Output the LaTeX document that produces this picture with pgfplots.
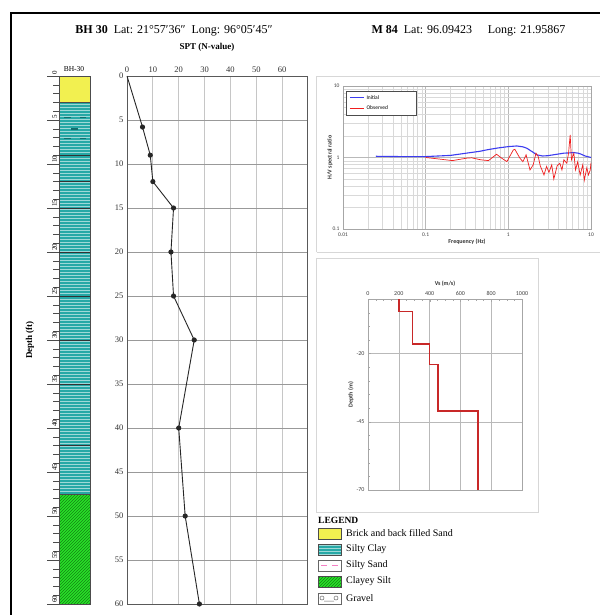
\documentclass[border=0pt]{standalone}
\usepackage{fontspec}
\setmainfont{Liberation Serif}
\newfontfamily\calib{Carlito}
\usepackage{pgfplots}
\pgfplotsset{compat=1.18}
\usetikzlibrary{patterns}

\definecolor{fillyel}{RGB}{242,240,80}
\definecolor{clayteal}{RGB}{38,168,166}
\definecolor{claydark}{RGB}{20,110,110}
\definecolor{siltgreen}{RGB}{40,225,40}
\definecolor{siltdark}{RGB}{20,130,20}
\definecolor{hvblue}{RGB}{60,60,240}
\definecolor{hvred}{RGB}{240,30,30}
\definecolor{vsred}{RGB}{200,40,40}
\definecolor{xlgray}{RGB}{215,215,215}

\begin{document}
\begin{tikzpicture}
\useasboundingbox (0,0) rectangle (599pt,-615pt);
\fill[white] (0,0) rectangle (599pt,-615pt);
\draw[line width=1.6pt] (11pt,-640pt) -- (11pt,-13pt) -- (620pt,-13pt);

% titles
\node[anchor=base, font=\fontsize{12}{14}\selectfont] at (174pt,-34pt)
  {\textbf{BH 30}\ \ Lat: 21°57′36″\ \ Long: 96°05′45″};
\node[anchor=base, font=\fontsize{9}{11}\selectfont\bfseries] at (207pt,-50pt) {SPT (N-value)};
\node[anchor=base west, font=\fontsize{12}{14}\selectfont] at (368pt,-34pt)
  {\textbf{M 84}\ \ Lat: 96.09423\hspace{1.3em}Long: 21.95867};
\node[anchor=base, font=\fontsize{7.5}{9}\selectfont] at (74pt,-72pt) {BH-30};
\node[rotate=90, font=\fontsize{9}{11}\selectfont\bfseries] at (30pt,-340pt) {Depth (ft)};

% borehole column
\begin{axis}[at={(59pt,-76pt)}, anchor=north west, scale only axis,
  width=31pt, height=528pt, xmin=0, xmax=1, ymin=0, ymax=60, y dir=reverse,
  axis lines=left, hide x axis, y axis line style={draw=none},
  ytick={0,5,...,60}, minor ytick={0,1,...,60}, yticklabels={},
  tick align=outside, major tick length=12pt, minor tick length=6pt,
  tick style={black!70, line width=0.6pt}, clip=false,
  unbounded coords=jump]
\addplot[fill=fillyel, draw=black!70] coordinates {(0,0) (1,0) (1,3) (0,3) (0,0)};
\addplot[fill=clayteal, draw=none] coordinates {(0,3) (1,3) (1,47.5) (0,47.5) (0,3)};
\addplot[pattern=horizontal lines, pattern color=white!55!clayteal, draw=black!70] coordinates {(0,3) (1,3) (1,47.5) (0,47.5) (0,3)};
\addplot[fill=siltgreen, draw=none] coordinates {(0,47.5) (1,47.5) (1,60) (0,60) (0,47.5)};
\addplot[pattern=north east lines, pattern color=siltdark, draw=black!70] coordinates {(0,47.5) (1,47.5) (1,60) (0,60) (0,47.5)};
\addplot[black!80, line width=0.6pt] coordinates {
  (0,9) (1,9) (nan,nan) (0,12) (1,12) (nan,nan) (0,15) (1,15) (nan,nan)
  (0,20) (1,20) (nan,nan) (0,25) (1,25) (nan,nan) (0,30) (1,30) (nan,nan)
  (0,35) (1,35) (nan,nan) (0,42) (1,42)};
\addplot[claydark, line width=1.4pt] coordinates {
  (0.17,4.7) (0.38,4.7) (nan,nan) (0.68,4.7) (0.88,4.7) (nan,nan)
  (0.4,6.0) (0.62,6.0) (nan,nan)
  (0.17,7.1) (0.38,7.1) (nan,nan) (0.68,7.1) (0.88,7.1)};
\pgfplotsinvokeforeach{0,5,10,15,20,25,30,35,40,45,50,55,60}{
  \node[rotate=90, anchor=south west, inner sep=0.3pt, font=\fontsize{7}{8}\selectfont]
    at ([xshift=-1.5pt,yshift=1pt]axis cs:0,#1) {#1};}
\end{axis}

% SPT profile
\begin{axis}[at={(127pt,-76pt)}, anchor=north west, scale only axis,
  width=181pt, height=528pt, xmin=0, xmax=70, ymin=0, ymax=60, y dir=reverse,
  xtick={0,10,...,60}, ytick={0,5,...,60}, xticklabel pos=top,
  major tick length=0pt, grid=major,
  x grid style={gray!45, line width=0.8pt},
  y grid style={gray!80, line width=0.8pt},
  axis line style={black!65, line width=1pt},
  ticklabel style={font=\fontsize{8.5}{10}\selectfont, text=black!80},
  /pgf/number format/assume math mode=true, clip=false]
\addplot[black!85, line width=0.9pt, mark=*, mark size=2.1pt, mark indices={2,...,11}]
  coordinates {(0,0) (6,5.8) (9,9) (10,12) (18,15) (17,20) (18,25) (26,30) (20,40) (22.5,50) (28,60)};
\end{axis}

% H/V spectral ratio panel
\draw[xlgray, line width=0.8pt] (316.5pt,-252pt) -- (316.5pt,-76pt) -- (620pt,-76pt);
\draw[xlgray, line width=0.8pt] (316.5pt,-252pt) -- (620pt,-252pt);
\begin{axis}[at={(343pt,-229pt)}, anchor=south west, scale only axis,
  width=248pt, height=143pt, xmode=log, ymode=log,
  xmin=0.01, xmax=10, ymin=0.1, ymax=10,
  xtick={0.01,0.1,1,10}, xticklabels={0.01,0.1,1,10},
  ytick={0.1,1,10}, yticklabels={0.1,1,10},
  grid=both, major grid style={gray!55, line width=0.5pt},
  minor grid style={gray!30, line width=0.4pt},
  tick style={draw=none}, axis line style={gray!70, line width=0.6pt},
  ticklabel style={font=\calib\fontsize{5.5}{6}\selectfont, text=black!75},
  /pgf/number format/assume math mode=true,
  xlabel={\calib\bfseries Frequency (Hz)}, ylabel={\calib\bfseries H/V spectral ratio},
  label style={font=\fontsize{6}{7}\selectfont, text=black!80},
  xlabel style={yshift=4pt}, ylabel style={yshift=-7pt},
  legend style={at={(0.012,0.965)}, anchor=north west, draw=black!70,
    font=\calib\fontsize{5.5}{6}\selectfont, row sep=1.5pt, inner xsep=3pt, inner ysep=2pt,
    cells={anchor=west}, text width=45pt},
  legend image code/.code={\draw[#1, line width=1.2pt] (0pt,0pt) -- (0.5cm,0pt);}]
\addplot[hvblue, line width=1.1pt] coordinates {
  (0.025,1.04) (0.05,1.03) (0.1,1.03) (0.2,1.07) (0.31,1.15) (0.45,1.22)
  (0.55,1.28) (0.75,1.36) (1.0,1.42) (1.26,1.45) (1.5,1.41) (1.67,1.35)
  (2.0,1.18) (2.2,1.09) (2.6,1.05) (3.0,1.06) (3.5,1.09) (4.7,1.15)
  (6.2,1.17) (7.0,1.15) (7.5,1.12) (8.5,1.05) (10,1.0)};
\addlegendentry{Initial}
\addplot[hvred, line width=0.7pt] coordinates {
  (0.1,1.0) (0.148,0.95) (0.21,0.905) (0.316,0.98) (0.36,0.99) (0.46,0.93)
  (0.575,0.905) (0.72,1.11) (0.83,0.98) (0.96,0.875) (1.15,1.28) (1.2,1.30)
  (1.38,0.98) (1.5,0.875) (1.64,1.09) (1.83,0.67) (2.0,0.79) (2.16,1.15)
  (2.3,1.03) (2.43,0.77) (2.7,0.57) (2.9,0.75) (3.1,0.62) (3.35,0.79)
  (3.55,0.50) (3.9,0.77) (4.2,0.83) (4.45,0.67) (4.7,0.93) (5.1,0.83)
  (5.35,1.15) (5.6,2.07) (5.8,0.93) (6.2,1.15) (6.5,0.67) (6.9,0.87)
  (7.4,0.57) (7.95,0.79) (8.3,0.48) (8.9,0.72) (9.3,0.57) (9.8,0.67) (10,0.85)};
\addlegendentry{Observed}
\end{axis}

% Vs profile panel
\draw[xlgray, line width=0.8pt] (316.5pt,-258pt) rectangle (538pt,-512pt);
\begin{axis}[at={(368pt,-299pt)}, anchor=north west, scale only axis,
  width=154pt, height=191pt, xmin=0, xmax=1000, ymin=-70, ymax=0,
  xtick={0,200,...,1000}, ytick={-70,-45,-20}, xticklabel pos=top,
  xtick pos=top, ytick pos=left,
  minor xtick={0,50,...,1000}, minor ytick={-70,-65,...,0},
  grid=major, major grid style={gray!55, line width=0.5pt},
  tick style={gray!70}, major tick length=3pt, minor tick length=2pt,
  axis line style={gray!70, line width=0.6pt},
  ticklabel style={font=\calib\fontsize{6}{7}\selectfont, text=black!75},
  /pgf/number format/assume math mode=true,
  /pgf/number format/set thousands separator={},
  xlabel={\calib\bfseries Vs (m/s)}, ylabel={\calib\bfseries Depth (m)},
  xlabel style={font=\fontsize{6}{7}\selectfont, text=black!80, yshift=-2pt},
  ylabel style={font=\fontsize{6}{7}\selectfont, text=black!80, yshift=-4pt}]
\addplot[vsred, line width=1.5pt] coordinates {
  (200,0) (200,-4.5) (290,-4.5) (290,-16.5) (400,-16.5) (400,-24)
  (455,-24) (455,-41) (715,-41) (715,-70)};
\end{axis}

% soil legend
\node[anchor=base west, font=\fontsize{9.5}{11}\selectfont\bfseries, inner sep=0pt] at (318pt,-523pt) {LEGEND};
\begin{scope}[font=\fontsize{10}{12}\selectfont]
\filldraw[fill=fillyel, draw=black!70] (318pt,-528pt) rectangle (341pt,-539pt);
\node[anchor=west, inner sep=0pt] at (346pt,-533.5pt) {Brick and back filled Sand};
\fill[clayteal] (318pt,-544pt) rectangle (341pt,-555pt);
\draw[pattern=horizontal lines, pattern color=white!55!clayteal, draw=black!70] (318pt,-544pt) rectangle (341pt,-555pt);
\node[anchor=west, inner sep=0pt] at (346pt,-549.5pt) {Silty Clay};
\draw[fill=white, draw=black!60] (318pt,-560pt) rectangle (341pt,-571pt);
\draw[magenta!50, line width=0.6pt] (321pt,-565.5pt) -- (327pt,-565.5pt) (332pt,-565.5pt) -- (338pt,-565.5pt);
\node[anchor=west, inner sep=0pt] at (346pt,-565.5pt) {Silty Sand};
\fill[siltgreen] (318pt,-576pt) rectangle (341pt,-587pt);
\draw[pattern=north east lines, pattern color=siltdark, draw=black!70] (318pt,-576pt) rectangle (341pt,-587pt);
\node[anchor=west, inner sep=0pt] at (346pt,-581.5pt) {Clayey Silt};
\draw[fill=white, draw=black!60] (318pt,-593pt) rectangle (341pt,-604pt);
\draw[black!60, line width=0.5pt] (322pt,-598pt) circle (2pt) (336pt,-598pt) circle (2pt) (324pt,-601pt) -- (334pt,-601pt);
\node[anchor=west, inner sep=0pt] at (346pt,-598.5pt) {Gravel};
\end{scope}
\end{tikzpicture}
\end{document}
